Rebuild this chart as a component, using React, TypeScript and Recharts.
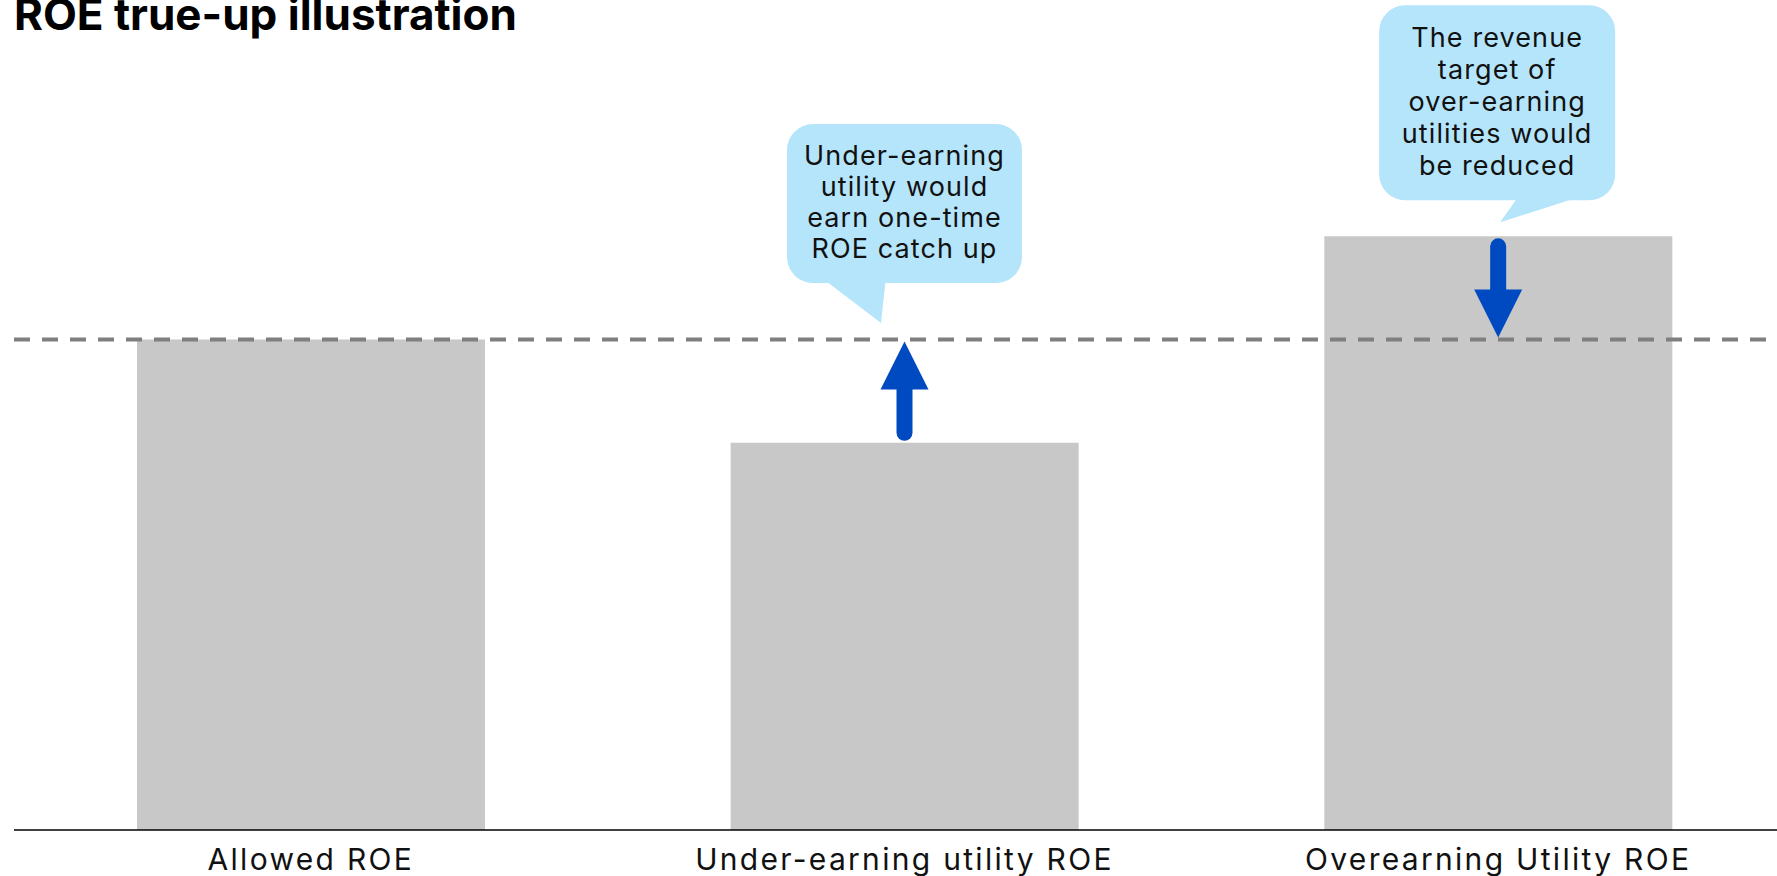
import React from 'react';
import { BarChart, Bar, XAxis, YAxis, ReferenceLine, ReferenceDot } from 'recharts';

const categories = ['Allowed ROE', 'Under-earning utility ROE', 'Overearning Utility ROE'];
const roeValues = [9.5, 7.5, 11.5];
const allowedRoe = 9.5;
const yDomain = [0, 16];
const titleText = 'ROE true-up illustration';
const underCallout = ['Under-earning', 'utility would', 'earn one-time', 'ROE catch up'];
const overCallout = ['The revenue', 'target of', 'over-earning', 'utilities would', 'be reduced'];

const data = categories.map((name, i) => ({ name, roe: roeValues[i] }));

const FONT = 'Inter, "DejaVu Sans", sans-serif';
const ARROW = '#004AC1';
const BUBBLE = '#B5E5FB';

const Tick = (props: any) => {
  const { x, y, payload } = props;
  return (
    <text x={x} y={y + 40} textAnchor="middle" fontFamily={FONT} fontSize={30} letterSpacing={2.3} fill="#111">
      {payload.value}
    </text>
  );
};

const arrowShape = (props: any) => {
  const { x1, y1, x2, y2 } = props;
  if ([x1, y1, x2, y2].some((v) => v === undefined || isNaN(v))) return <g />;
  const x = x1;
  const dir = y2 > y1 ? 1 : -1;
  const start = y1 + dir * 10;
  const tip = y2 - dir * 2;
  const headBase = tip - dir * 48;
  return (
    <g>
      <line x1={x} y1={start} x2={x} y2={headBase} stroke={ARROW} strokeWidth={16} strokeLinecap="round" />
      <polygon points={`${x - 24},${headBase} ${x + 24},${headBase} ${x},${tip}`} fill={ARROW} />
    </g>
  );
};

const makeCallout = (
  lines: string[],
  box: { l: number; r: number; t: number; b: number },
  tail: number[][],
  textDx: number,
  firstBase: number,
  step: number
) => (props: any) => {
  const { cx, cy } = props;
  if (cx === undefined || cy === undefined) return <g />;
  const pts = tail.map(([dx, dy]) => `${cx + dx},${cy + dy}`).join(' ');
  return (
    <g>
      <rect x={cx + box.l} y={cy + box.t} width={box.r - box.l} height={box.b - box.t} rx={26} ry={26} fill={BUBBLE} />
      <polygon points={pts} fill={BUBBLE} />
      {lines.map((ln, i) => (
        <text
          key={i}
          x={cx + textDx}
          y={cy + firstBase + i * step}
          textAnchor="middle"
          fontFamily={FONT}
          fontSize={27}
          letterSpacing={1.1}
          fill="#111"
        >
          {ln}
        </text>
      ))}
    </g>
  );
};

const underShape = makeCallout(
  underCallout,
  { l: -117.5, r: 117.5, t: -215.5, b: -56.5 },
  [[-78, -58], [-19, -58], [-23.5, -16.5]],
  0,
  -174.5,
  31
);

const overShape = makeCallout(
  overCallout,
  { l: -119, r: 117, t: -231, b: -36 },
  [[19, -38], [77, -38], [2, -14]],
  -1,
  -189,
  32
);

export default function App() {
  return (
    <div style={{ position: 'absolute', left: 0, top: 0, width: 1777, height: 876, overflow: 'hidden', background: '#fff' }}>
      <svg width={1777} height={44} style={{ position: 'absolute', left: 0, top: 0 }}>
        <text x={14} y={30} fontFamily={FONT} fontWeight={700} fontSize={44} fill="#000">
          {titleText}
        </text>
      </svg>
      <div style={{ position: 'absolute', left: 0, top: 0 }}>
        <BarChart width={1800} height={876} data={data} margin={{ top: 4, right: 5, left: 14, bottom: 0 }}>
          <XAxis
            dataKey="name"
            height={46}
            tickLine={false}
            tickSize={0}
            tickMargin={0}
            interval={0}
            axisLine={{ stroke: '#000', strokeWidth: 1.5 }}
            tick={<Tick />}
          />
          <YAxis hide domain={yDomain} type="number" />
          <Bar dataKey="roe" fill="#C8C8C8" barSize={348} isAnimationActive={false} />
          <ReferenceLine y={allowedRoe} stroke="#7F7F7F" strokeWidth={4} strokeDasharray="16 12" />
          <ReferenceLine
            segment={[
              { x: categories[1], y: roeValues[1] },
              { x: categories[1], y: allowedRoe },
            ]}
            shape={arrowShape}
          />
          <ReferenceLine
            segment={[
              { x: categories[2], y: roeValues[2] },
              { x: categories[2], y: allowedRoe },
            ]}
            shape={arrowShape}
          />
          <ReferenceDot x={categories[1]} y={allowedRoe} r={0} shape={underShape} />
          <ReferenceDot x={categories[2]} y={roeValues[2]} r={0} shape={overShape} />
        </BarChart>
      </div>
    </div>
  );
}
